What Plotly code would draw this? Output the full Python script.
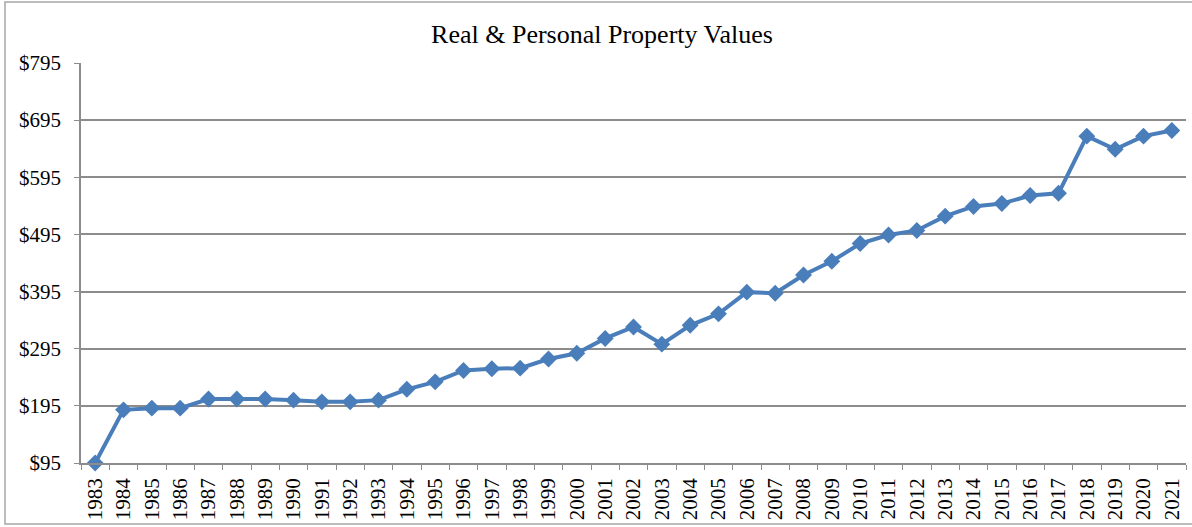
import plotly.graph_objects as go

years = [str(y) for y in range(1983, 2022)]
values = [95, 188, 191, 191, 207, 207, 207, 205, 202, 202, 205, 224, 237, 257, 260, 261,
          277, 287, 313, 333, 303, 336, 356, 394, 392, 424, 448, 479, 494, 502, 527, 544,
          549, 563, 567, 667, 644, 667, 677]
y_ticks = [95, 195, 295, 395, 495, 595, 695, 795]
y_tick_labels = ["$" + str(v) for v in y_ticks]
title_text = "Real & Personal Property Values"

FONT = "Liberation Serif"
GRID = "#8C8C8C"

fig = go.Figure()
fig.add_trace(go.Scatter(
    x=years, y=values, mode="lines+markers",
    line=dict(color="#4A7EBB", width=4),
    marker=dict(symbol="diamond", size=13, color="#4A7EBB"),
    cliponaxis=False, showlegend=False,
))

L, R, T, B = 81, 6, 63, 64
W, H = 1192, 527
pw, ph = W - L - R, H - T - B

def px(x):
    return (x - L) / pw

def py(y):
    return (H - B - y) / ph

fig.update_layout(
    width=W, height=H,
    margin=dict(l=L, r=R, t=T, b=B, autoexpand=False),
    paper_bgcolor="white", plot_bgcolor="white",
    font=dict(family=FONT, size=21, color="black"),
    title=dict(text=title_text, x=602 / W, xanchor="center", y=1 - 34 / H, yanchor="middle",
               font=dict(family=FONT, size=26, color="black")),
    xaxis=dict(
        type="category", tickangle=-90, tickson="boundaries",
        range=[-0.5, len(years) - 0.5], automargin=False,
        ticks="outside", ticklen=5, tickcolor=GRID, ticklabelstandoff=5,
        showline=True, linecolor=GRID, linewidth=1.5,
        showgrid=False, tickfont=dict(family=FONT, size=21),
    ),
    yaxis=dict(
        range=[95, 795], tickvals=y_ticks, ticktext=y_tick_labels, automargin=False,
        ticks="outside", ticklen=5, tickcolor=GRID, ticklabelstandoff=9,
        showline=True, linecolor=GRID, linewidth=1.5,
        showgrid=True, gridcolor=GRID, gridwidth=1.5,
        zeroline=False, tickfont=dict(family=FONT, size=21),
    ),
    shapes=[dict(type="rect", xref="paper", yref="paper",
                 x0=px(5), x1=px(1200), y0=py(524), y1=py(2),
                 line=dict(color="#A6A6A6", width=1.5), fillcolor="rgba(0,0,0,0)",
                 layer="below")],
)

fig.write_html("out.html", config={"displayModeBar": False},
               post_script="document.body.style.margin='0';")
